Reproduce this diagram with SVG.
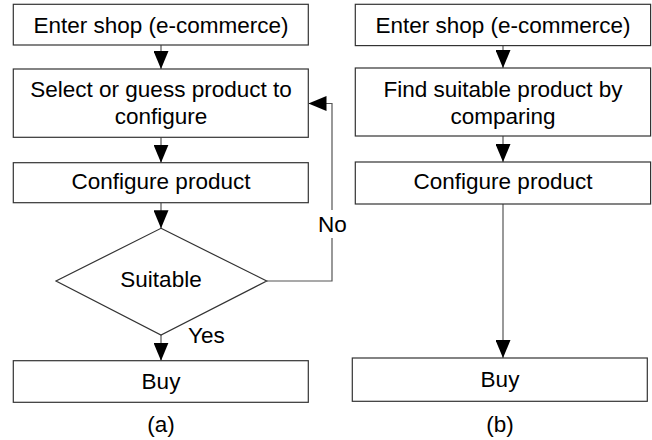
<svg xmlns="http://www.w3.org/2000/svg" width="652" height="440" viewBox="0 0 652 440">
<style>
.box{fill:#fff;stroke:#333;stroke-width:1.2}
.t{font-family:"Liberation Sans",Arial,sans-serif;font-size:22.5px;fill:#000;text-anchor:middle}
.tl{font-family:"Liberation Sans",Arial,sans-serif;font-size:22.5px;fill:#000}
.c{fill:none;stroke:#555;stroke-width:1.2}
</style>
<defs>
<marker id="ah" viewBox="0 0 18 15" refX="18" refY="7.5" markerWidth="18" markerHeight="15" markerUnits="userSpaceOnUse" orient="auto">
<path d="M0,0 L18,7.5 L0,15 z" fill="#000"/>
</marker>
</defs>
<rect width="652" height="440" fill="#fff"/>
<g id="connectors">
<line class="c" x1="161" y1="45" x2="161" y2="69" marker-end="url(#ah)"/>
<line class="c" x1="161" y1="137" x2="161" y2="162.7" marker-end="url(#ah)"/>
<line class="c" x1="161" y1="203" x2="161" y2="228.3" marker-end="url(#ah)"/>
<line class="c" x1="161" y1="335" x2="161" y2="360.7" marker-end="url(#ah)"/>
<path class="c" d="M266.7,281 H332 V238"/>
<path class="c" d="M332,210 V103.5 H308.5" marker-end="url(#ah)"/>
<line class="c" x1="503" y1="45.5" x2="503" y2="68" marker-end="url(#ah)"/>
<line class="c" x1="503" y1="136" x2="503" y2="162" marker-end="url(#ah)"/>
<line class="c" x1="503" y1="204" x2="503" y2="358" marker-end="url(#ah)"/>
</g>
<g id="a-enter">
<rect class="box" x="13.3" y="4.3" width="295" height="40.7"/>
<text class="t" x="161" y="33">Enter shop (e-commerce)</text>
</g>
<g id="a-select">
<rect class="box" x="13.3" y="69" width="295" height="68.3"/>
<text class="t" x="161" y="97">Select or guess product to</text>
<text class="t" x="161" y="124">configure</text>
</g>
<g id="a-configure">
<rect class="box" x="13.3" y="162.7" width="295" height="40"/>
<text class="t" x="161" y="189">Configure product</text>
</g>
<g id="a-suitable">
<polygon class="box" points="161,228.3 266.7,281 161,335 56,281"/>
<text class="t" x="161" y="287.3">Suitable</text>
</g>
<g id="a-buy">
<rect class="box" x="13.3" y="360.7" width="295" height="41.6"/>
<text class="t" x="161" y="389">Buy</text>
</g>
<g id="labels">
<text class="tl" x="188" y="343.3">Yes</text>
<text class="t" x="332.3" y="231.7">No</text>
<text class="t" x="161" y="432">(a)</text>
<text class="t" x="500" y="432">(b)</text>
</g>
<g id="b-enter">
<rect class="box" x="355.3" y="4.3" width="295.3" height="41.3"/>
<text class="t" x="503" y="33">Enter shop (e-commerce)</text>
</g>
<g id="b-find">
<rect class="box" x="355.3" y="68" width="295.3" height="68"/>
<text class="t" x="503" y="97">Find suitable product by</text>
<text class="t" x="503" y="124">comparing</text>
</g>
<g id="b-configure">
<rect class="box" x="355.3" y="162" width="295.3" height="42"/>
<text class="t" x="503" y="189">Configure product</text>
</g>
<g id="b-buy">
<rect class="box" x="352.3" y="358" width="295" height="43.3"/>
<text class="t" x="500" y="387">Buy</text>
</g>
</svg>
